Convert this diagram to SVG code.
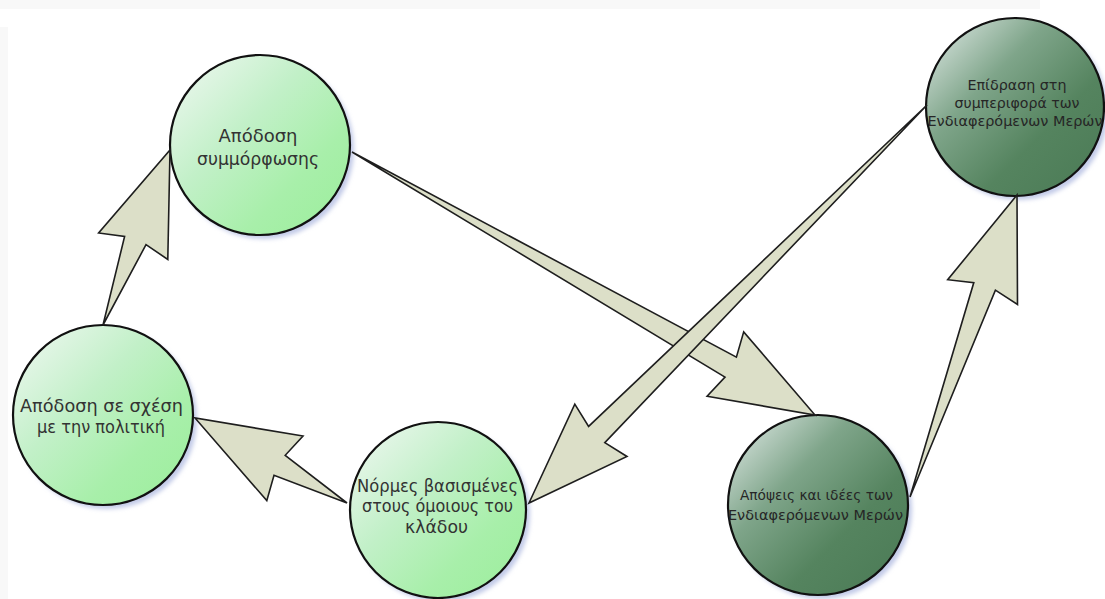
<svg xmlns="http://www.w3.org/2000/svg" width="1105" height="599" viewBox="0 0 1105 599">
<style>
.bg{fill:#ffffff}
.band{fill:#f8f8f8}
.lt{fill:url(#gLight);stroke:#111;stroke-width:2.2}
.dk{fill:url(#gDark);stroke:#111;stroke-width:2.2}
.sh{fill:#c3cbe8;filter:url(#blur)}
.arr{fill:#dcdfc8;stroke:#1e1e1e;stroke-width:1.6;stroke-linejoin:miter}
.tl{font-family:"DejaVu Sans","Noto Sans",sans-serif;font-size:17px;fill:#333;text-anchor:middle}
.td{font-family:"DejaVu Sans","Noto Sans",sans-serif;font-size:14px;fill:#262626;text-anchor:middle}
</style>
<defs>
<linearGradient id="gLight" x1="0" y1="0" x2="1" y2="1">
<stop offset="0" stop-color="#f2f8f4"/>
<stop offset="0.4" stop-color="#c2f0c8"/>
<stop offset="0.7" stop-color="#a8efaa"/>
<stop offset="1" stop-color="#9bee9b"/>
</linearGradient>
<linearGradient id="gDark" x1="0" y1="0" x2="1" y2="1">
<stop offset="0" stop-color="#e6eeec"/>
<stop offset="0.35" stop-color="#7fa58a"/>
<stop offset="0.65" stop-color="#55845f"/>
<stop offset="1" stop-color="#4a7a55"/>
</linearGradient>
<filter id="blur" x="-20%" y="-20%" width="140%" height="140%">
<feGaussianBlur stdDeviation="2"/>
</filter>
</defs>
<rect class="bg" x="0" y="0" width="1105" height="599"/>
<rect class="band" x="0" y="0" width="1040" height="9"/>
<rect class="band" x="0" y="27" width="8" height="572"/>

<g id="node-apodosi-symmorfosis">
<circle class="sh" cx="264" cy="149" r="90"/>
<circle class="lt" cx="260" cy="145" r="90"/>
<text class="tl" x="258" y="142" textLength="79" lengthAdjust="spacingAndGlyphs">Απόδοση</text>
<text class="tl" x="258" y="165" textLength="122" lengthAdjust="spacingAndGlyphs">συμμόρφωσης</text>
</g>

<g id="node-epidrasi">
<circle class="sh" cx="1019" cy="111" r="89"/>
<circle class="dk" cx="1015" cy="107" r="89"/>
<text class="td" x="1017" y="90" textLength="99" lengthAdjust="spacingAndGlyphs">Επίδραση στη</text>
<text class="td" x="1017" y="108" textLength="125" lengthAdjust="spacingAndGlyphs">συμπεριφορά των</text>
<text class="td" x="1015" y="126" textLength="175" lengthAdjust="spacingAndGlyphs">Ενδιαφερόμενων Μερών</text>
</g>

<g id="node-apodosi-politiki">
<circle class="sh" cx="107" cy="419" r="90"/>
<circle class="lt" cx="103" cy="415" r="90"/>
<text class="tl" x="101.5" y="412" textLength="163" lengthAdjust="spacingAndGlyphs">Απόδοση σε σχέση</text>
<text class="tl" x="101" y="433" textLength="128" lengthAdjust="spacingAndGlyphs">με την πολιτική</text>
</g>

<g id="node-normes">
<circle class="sh" cx="442" cy="514" r="88"/>
<circle class="lt" cx="438" cy="510" r="88"/>
<text class="tl" x="437.5" y="492" textLength="161" lengthAdjust="spacingAndGlyphs">Νόρμες βασισμένες</text>
<text class="tl" x="437.5" y="512" textLength="151" lengthAdjust="spacingAndGlyphs">στους όμοιους του</text>
<text class="tl" x="436.5" y="533" textLength="63" lengthAdjust="spacingAndGlyphs">κλάδου</text>
</g>

<g id="node-apopseis">
<circle class="sh" cx="822" cy="509" r="90"/>
<circle class="dk" cx="818" cy="505" r="90"/>
<text class="td" x="816.5" y="500" textLength="153" lengthAdjust="spacingAndGlyphs">Απόψεις και ιδέες των</text>
<text class="td" x="815.5" y="520" textLength="175" lengthAdjust="spacingAndGlyphs">Ενδιαφερόμενων Μερών</text>
</g>

<g id="connectors">
<polygon class="arr" points="103,325 146,244.7 167.8,259.4 170,150 98.6,233 124.6,236.5"/>
<polygon class="arr" points="352,152 725,377.1 707.1,396.3 815,415 743.7,331.9 736.4,357.1"/>
<polygon class="arr" points="927,105 588.6,426.4 574.8,404.1 529,503 627,456.5 604.8,442.6"/>
<polygon class="arr" points="910,497 995.4,290.2 1017.5,304.5 1017,195 947.7,279.7 973.8,282.6"/>
<polygon class="arr" points="347,503 285.2,455.3 303,436 195,418 266.8,500.6 274,475.3"/>
</g>
</svg>
